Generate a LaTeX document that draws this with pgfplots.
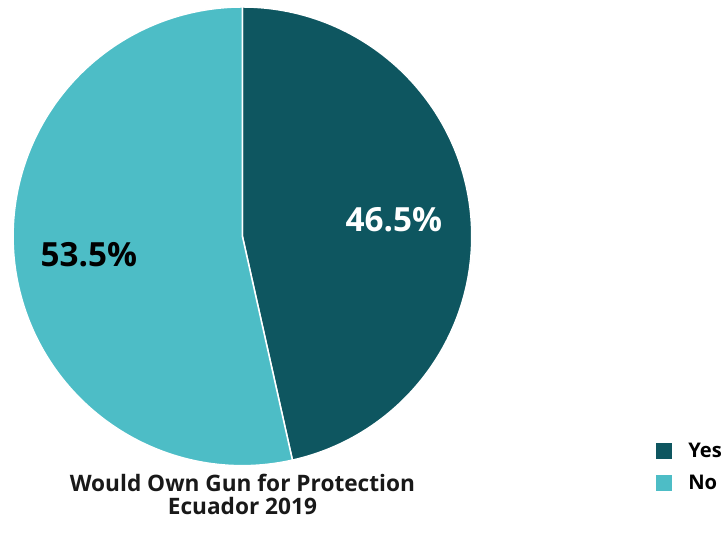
\documentclass[border=0pt]{standalone}
\usepackage{pgfplots}
\pgfplotsset{compat=1.18}
\usepackage{fontspec}
\setmainfont{Open Sans}
\definecolor{yescol}{HTML}{0E5660}
\definecolor{nocol}{HTML}{4DBDC6}
\begin{document}
\begin{tikzpicture}
\begin{axis}[
  width=723bp, height=546bp, scale only axis,
  xmin=0, xmax=723, ymin=0, ymax=546, y dir=reverse,
  hide axis, clip=false]
\pgfmathsetmacro{\yesval}{46.5}
\pgfmathsetmacro{\noval}{53.5}
\pgfmathsetmacro{\yesend}{90-3.6*\yesval}
\path (axis cs:0,0) rectangle (axis cs:723,546);
% Yes wedge
\fill[yescol, draw=white, line width=1.5bp] (axis cs:241,237) -- ++(90:230bp) arc[start angle=90, end angle=\yesend, radius=230bp] -- cycle;
% No wedge
\fill[nocol, draw=white, line width=1.5bp] (axis cs:241,237) -- ++(\yesend:230bp) arc[start angle=\yesend, end angle=-270, radius=230bp] -- cycle;
\node[text=white, font=\fontsize{33.5}{36}\selectfont\bfseries] at (axis cs:393,220) {46.5\%};
\node[text=black, font=\fontsize{33.5}{36}\selectfont\bfseries] at (axis cs:87,255) {53.5\%};
\node[align=center, font=\fontsize{22.8}{23.5}\selectfont\bfseries, text=black!90] at (axis cs:241,496) {Would Own Gun for Protection\\Ecuador 2019};
\fill[yescol] (axis cs:656,444) rectangle (axis cs:672,460);
\fill[nocol] (axis cs:656,476) rectangle (axis cs:672,492);
\node[anchor=west, font=\fontsize{20.3}{22}\selectfont\bfseries, inner sep=0pt] at (axis cs:688,452) {Yes};
\node[anchor=west, font=\fontsize{20.3}{22}\selectfont\bfseries, inner sep=0pt] at (axis cs:688,484) {No};
\end{axis}
\end{tikzpicture}
\end{document}
